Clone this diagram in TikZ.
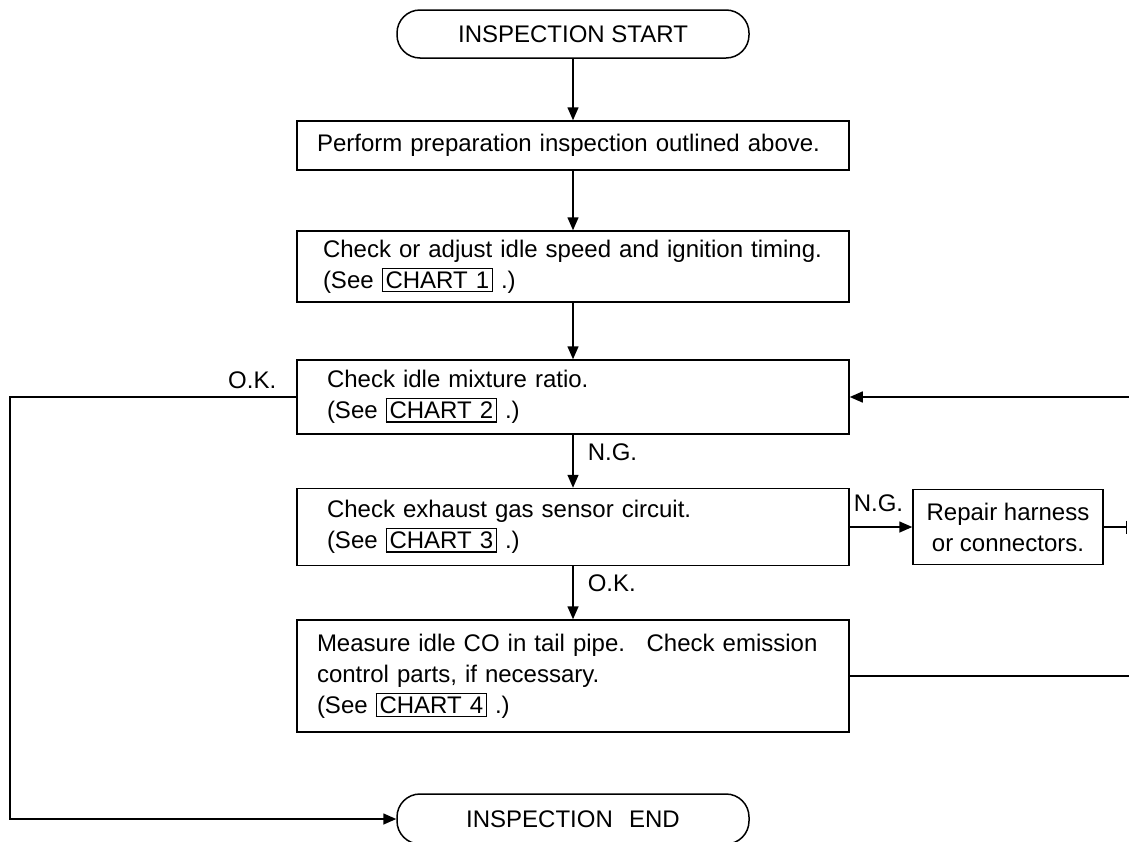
\documentclass[tikz,border=0pt]{standalone}
\usepackage{fontspec}
\setmainfont{Liberation Sans}
\usetikzlibrary{arrows.meta}
\newcommand\chartbox[1]{{\fboxsep=2.5pt\fboxrule=1.4pt\fbox{#1}}}
\begin{document}
\begin{tikzpicture}[x=1pt,y=-1pt,
  line width=1.5pt,
  txt/.style={font=\fontsize{24}{31}\selectfont},
  box/.style={txt, draw, rectangle, minimum width=552pt, inner xsep=22pt, text width=508pt, align=left},
  term/.style={txt, draw, rectangle, rounded corners=23pt, minimum width=352pt, minimum height=48pt},
  rbox/.style={txt, draw, rectangle, minimum width=190pt, minimum height=75pt, align=center, inner xsep=4pt},
  lbl/.style={txt, inner sep=0pt},
  arr/.style={-{Triangle[length=13pt,width=11pt]}}
]
\path[fill=white, use as bounding box] (0,0) rectangle (1129,841);

\node[term] (start) at (573,34) {INSPECTION START};
\node[box, minimum height=49pt, inner xsep=20pt, text width=512pt] (b1) at (573,145.5) {Perform preparation inspection outlined above.};
\node[box, minimum height=71pt, inner xsep=26pt, text width=500pt] (b2) at (573,266.5) {Check or adjust idle speed and ignition timing.\\(See \chartbox{CHART 1} .)};
\node[box, minimum height=74pt, inner xsep=30pt, text width=492pt] (b3) at (573,397) {Check idle mixture ratio.\\(See \chartbox{CHART 2} .)};
\node[box, minimum height=77pt, inner xsep=30pt, text width=492pt] (b4) at (573,527) {Check exhaust gas sensor circuit.\\(See \chartbox{CHART 3} .)};
\node[box, minimum height=112pt, inner xsep=20pt, text width=512pt] (b5) at (573,676) {Measure idle CO in tail pipe.\hspace{0.4em} Check emission\\control parts, if necessary.\\(See \chartbox{CHART 4} .)};
\node[rbox] (rep) at (1008,527) {Repair harness\\or connectors.};
\node[term, minimum height=50pt] (end) at (573,819) {INSPECTION\hspace{0.4em} END};

\node[lbl, anchor=base east] (okleft) at (277,388) {O.K.};
\node[lbl, anchor=base west] (ng1) at (587,460) {N.G.};
\node[lbl, anchor=base west] (ok2) at (587,591) {O.K.};
\node[lbl, anchor=base west] (ng2) at (853,511) {N.G.};

\coordinate (lc) at (10,397);
\coordinate (fb) at (1131,397);
\coordinate (tick) at (1127,527);
\coordinate (mr) at (1131,676);

\draw[arr] (start) -- (b1);
\draw[arr] (b1) -- (b2);
\draw[arr] (b2) -- (b3);
\draw[arr] (b3) -- (b4);
\draw[arr] (b4) -- (b5);
\draw[arr] (b4) -- (rep);
\draw[-{Bar[width=13pt]}] (rep.east) -- (tick);
\draw[arr] (fb) -- (b3.east);
\draw (b5.east) -- (mr);
\draw[arr] (b3.west) -- (lc) |- (end.west);
\end{tikzpicture}
\end{document}
